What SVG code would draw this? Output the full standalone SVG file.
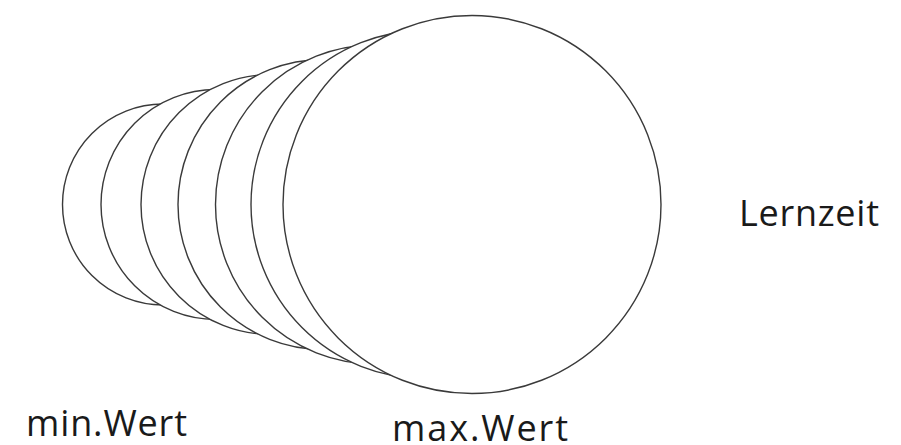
<svg xmlns="http://www.w3.org/2000/svg" width="901" height="445" viewBox="0 0 901 445">
<style>
.c{fill:#fff;stroke:#3a3a3a;stroke-width:1.4}
.t{font-family:"Open Sans","DejaVu Sans",sans-serif;font-size:36px;fill:#1a1a1a}
</style>
<rect width="901" height="445" fill="#fff"/>
<g id="circles">
<g id="c1"><circle class="c" cx="163" cy="204.5" r="100.5"/></g>
<g id="c2"><circle class="c" cx="216" cy="204.5" r="115"/></g>
<g id="c3"><circle class="c" cx="271" cy="204.5" r="130"/></g>
<g id="c4"><circle class="c" cx="323" cy="204.5" r="145"/></g>
<g id="c5"><circle class="c" cx="375" cy="204.5" r="159.5"/></g>
<g id="c6"><circle class="c" cx="425" cy="204.5" r="174"/></g>
<g id="c7"><circle class="c" cx="472" cy="204.5" r="189"/></g>
</g>
<g id="connectors"></g>
<g id="labels">
<text class="t" x="26" y="436" textLength="161">min.Wert</text>
<text class="t" x="392" y="441" textLength="176">max.Wert</text>
<text class="t" x="739" y="226" textLength="140">Lernzeit</text>
</g>
</svg>
